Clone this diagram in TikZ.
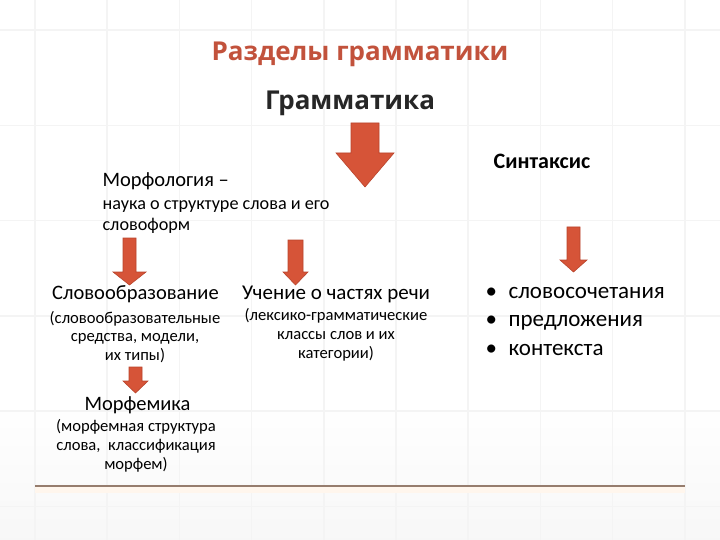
\documentclass[tikz,border=0pt]{standalone}
\usepackage{fontspec}
\setmainfont{Carlito}
\newfontfamily\headfont{Open Sans}
\usetikzlibrary{positioning}

\definecolor{titlered}{RGB}{194,82,60}
\definecolor{arrowred}{RGB}{214,84,56}
\definecolor{arrowedge}{RGB}{185,68,44}
\definecolor{gridgray}{RGB}{244,244,244}
\definecolor{rulebrown}{RGB}{150,125,110}

\begin{document}
\begin{tikzpicture}[x=1pt,y=-1pt,
    head/.style={font=\headfont\bfseries\fontsize{26}{30}\selectfont},
    item/.style={font=\fontsize{20.5}{24}\selectfont},
    note/.style={font=\fontsize{16.6}{18.8}\selectfont, align=center},
    bullet/.style={font=\fontsize{23}{26}\selectfont, anchor=base west},
    blockarrow/.style={fill=arrowred, draw=arrowedge, line width=0.6pt}]

      % Background and grid
      \fill[white] (0,0) rectangle (720,540);
      \useasboundingbox (0,0) rectangle (720,540);
      \shade[top color=white, bottom color=gray!6] (0,400) rectangle (720,540);
      \foreach \i in {0,...,9}
        \draw[gridgray, line width=1.5pt] (35+72.2*\i,0) -- (35+72.2*\i,540);
      \foreach \j in {0,...,5}
        \draw[gridgray, line width=1.5pt] (0,30+95.3*\j) -- (720,30+95.3*\j);

      % Headings
      \node[head, text=titlered] (title) at (360,54) {Разделы грамматики};
      \node[head, text=black!85] (grammar) at (350,103) {Грамматика};

      % big arrow
      \draw[blockarrow] (351,123) -- (379,123) -- (379,153) -- (394,153)
        -- (365,187) -- (336,153) -- (351,153) -- cycle;

      % Morphology
      \node[item, anchor=west] (morph) at (99,181) {Морфология --};
      \node[font=\fontsize{18.2}{20.5}\selectfont, anchor=west, align=left]
        (morphdef) at (99,217) {наука о структуре слова и его\\словоформ};

      % Syntax
      \node[font=\bfseries\fontsize{22}{24}\selectfont] (syntax) at (542,161) {Синтаксис};

      % small arrows
      \draw[blockarrow] (123,238) -- (136,238) -- (136,272) -- (146,272)
        -- (129.5,285) -- (113,272) -- (123,272) -- cycle;
      \draw[blockarrow] (288,240) -- (303,240) -- (303,272) -- (308,272)
        -- (295.5,285) -- (283,272) -- (288,272) -- cycle;
      \draw[blockarrow] (567,227) -- (580,227) -- (580,260) -- (587,260)
        -- (573.5,272) -- (560,260) -- (567,260) -- cycle;
      \draw[blockarrow] (129,367) -- (142,367) -- (142,381) -- (148,381)
        -- (135.5,393) -- (123,381) -- (129,381) -- cycle;

      % Word formation
      \node[item] (wordform) at (135.5,294) {Словообразование};
      \node[note] (wordformnote) at (135,337)
        {(словообразовательные\\средства, модели,\\их типы)};

      % Parts of speech
      \node[font=\fontsize{21}{24}\selectfont] (parts) at (336,294) {Учение о частях речи};
      \node[note] (partsnote) at (336,335)
        {(лексико-грамматические\\классы слов и их\\категории)};

      % Morphemics
      \node[item] (morpheme) at (137.5,405) {Морфемика};
      \node[note] (morphemenote) at (136,446)
        {(морфемная структура\\слова,~ классификация\\морфем)};

      % syntax list
      \foreach \t [count=\k] in {словосочетания, предложения, контекста} {
        \node[bullet] (dot\k) at (482,269.5+28.5*\k) {•};
        \node[bullet] (unit\k) at (505,269.5+28.5*\k) {\t};
      }

      % bottom rule
      \fill[orange!7] (35,487) rectangle (685,493);
      \draw[rulebrown, line width=1.2pt] (35,486) -- (685,486);
\end{tikzpicture}
\end{document}
